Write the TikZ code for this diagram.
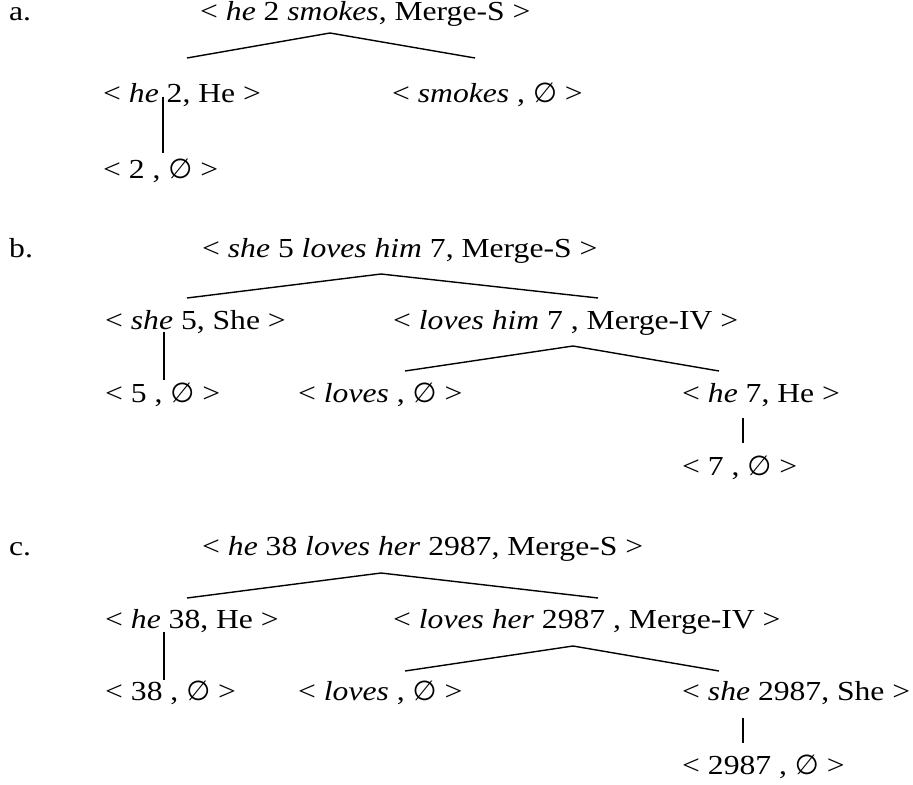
\documentclass[tikz,border=0pt]{standalone}
\usepackage{fontspec}
\setmainfont{Liberation Serif}[FakeStretch=1.15]
\newfontfamily\symfont{DejaVu Sans}
\newcommand{\nul}{{\symfont ∅}}
\begin{document}
\begin{tikzpicture}[x=1bp,y=-1bp,
  lbl/.style={anchor=base west, inner sep=0pt, font=\fontsize{27.5bp}{33bp}\selectfont},
  edge/.style={line width=1.4bp}]
\useasboundingbox (0,0) rectangle (913,785);
% ---- a ----
\node[lbl] (la) at (9,21) {a.};
\node[lbl] (a0) at (200,21) {< \textit{he} 2 \textit{smokes}, Merge-S >};
\node[lbl] (a1) at (103,102) {< \textit{he} 2, He >};
\node[lbl] (a2) at (392,102) {< \textit{smokes} , \nul{} >};
\node[lbl] (a3) at (103,178) {< 2 , \nul{} >};
\coordinate (a0ap) at (330,33);
\coordinate (a1t) at (187,58);
\coordinate (a2t) at (475,58);
\coordinate (a1b) at (163,97);
\coordinate (a3t) at (163,153);
\draw[edge] (a1t) -- (a0ap) -- (a2t);
\draw[edge] (a1b) -- (a3t);
% ---- b ----
\node[lbl] (lb) at (9,257) {b.};
\node[lbl] (b0) at (202,257) {< \textit{she} 5 \textit{loves him} 7, Merge-S >};
\node[lbl] (b1) at (105,329) {< \textit{she} 5, She >};
\node[lbl] (b2) at (393,329) {< \textit{loves him} 7 , Merge-IV >};
\node[lbl] (b3) at (105,402) {< 5 , \nul{} >};
\node[lbl] (b4) at (298,402) {< \textit{loves} , \nul{} >};
\node[lbl] (b5) at (682,402) {< \textit{he} 7, He >};
\node[lbl] (b6) at (682,475) {< 7 , \nul{} >};
\coordinate (b0ap) at (381,274);
\coordinate (b1t) at (187,298);
\coordinate (b2t) at (598,298);
\coordinate (b1b) at (164,332);
\coordinate (b3t) at (164,380);
\coordinate (b2ap) at (573,346);
\coordinate (b4t) at (405,371);
\coordinate (b5t) at (719,371);
\coordinate (b5b) at (743,418);
\coordinate (b6t) at (743,443);
\draw[edge] (b1t) -- (b0ap) -- (b2t);
\draw[edge] (b1b) -- (b3t);
\draw[edge] (b4t) -- (b2ap) -- (b5t);
\draw[edge] (b5b) -- (b6t);
% ---- c ----
\node[lbl] (lc) at (9,555) {c.};
\node[lbl] (c0) at (202,555) {< \textit{he} 38 \textit{loves her} 2987, Merge-S >};
\node[lbl] (c1) at (105,628) {< \textit{he} 38, He >};
\node[lbl] (c2) at (393,628) {< \textit{loves her} 2987 , Merge-IV >};
\node[lbl] (c3) at (105,700) {< 38 , \nul{} >};
\node[lbl] (c4) at (298,700) {< \textit{loves} , \nul{} >};
\node[lbl] (c5) at (682,700) {< \textit{she} 2987, She >};
\node[lbl] (c6) at (682,774) {< 2987 , \nul{} >};
\coordinate (c0ap) at (381,573);
\coordinate (c1t) at (187,598);
\coordinate (c2t) at (598,598);
\coordinate (c1b) at (164,632);
\coordinate (c3t) at (164,680);
\coordinate (c2ap) at (573,646);
\coordinate (c4t) at (405,671);
\coordinate (c5t) at (719,671);
\coordinate (c5b) at (743,718);
\coordinate (c6t) at (743,743);
\draw[edge] (c1t) -- (c0ap) -- (c2t);
\draw[edge] (c1b) -- (c3t);
\draw[edge] (c4t) -- (c2ap) -- (c5t);
\draw[edge] (c5b) -- (c6t);
\end{tikzpicture}
\end{document}
